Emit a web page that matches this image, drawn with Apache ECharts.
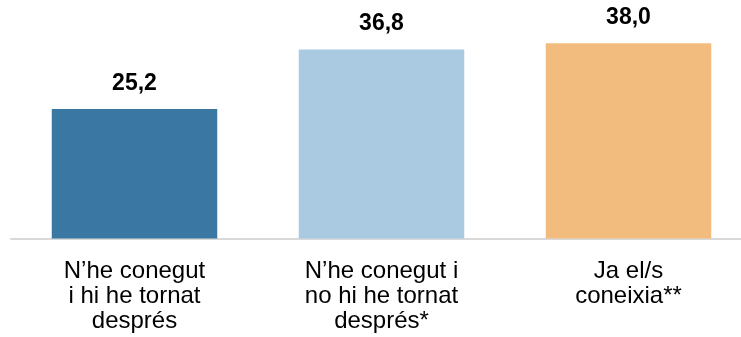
<!DOCTYPE html>
<html>
<head>
<meta charset="utf-8">
<script src="https://cdn.jsdelivr.net/npm/echarts@6/dist/echarts.min.js"></script>
<style>
  html, body { margin: 0; padding: 0; background: #fff; }
  #chart { width: 741px; height: 337px; }
</style>
</head>
<body>
<div id="chart"></div>
<script>
// Categories and values
const categories = [
  "N\u2019he conegut\ni hi he tornat\ndesprés",
  "N\u2019he conegut i\nno hi he tornat\ndesprés*",
  "Ja el/s\nconeixia**"
];
const values = [25.2, 36.8, 38.0];
const barColors = ["#3A77A3", "#A9CAE1", "#F3BC7F"];

const chart = echarts.init(document.getElementById("chart"), null, { renderer: "canvas" });

chart.setOption({
  animation: false,
  textStyle: { fontFamily: "Liberation Sans, Arial, sans-serif" },
  grid: {
    left: 11, width: 741, top: 33, bottom: 98.5,
    containLabel: false,
    outerBoundsMode: "none"
  },
  xAxis: {
    type: "category",
    data: categories,
    axisLine: { show: true, lineStyle: { color: "#D9D9D9", width: 2 } },
    axisTick: { show: false },
    axisLabel: {
      interval: 0,
      color: "#000",
      fontSize: 24,
      lineHeight: 25,
      margin: 20,
      fontFamily: "Liberation Sans, Arial, sans-serif"
    }
  },
  yAxis: {
    type: "value",
    min: 0,
    max: 40,
    show: false,
    splitLine: { show: false }
  },
  series: [{
    type: "bar",
    data: values.map((v, i) => ({ value: v, itemStyle: { color: barColors[i] } })),
    barCategoryGap: "33%",
    label: {
      show: true,
      position: "top",
      distance: 14,
      color: "#000",
      fontSize: 23,
      fontWeight: "bold",
      fontFamily: "Liberation Sans, Arial, sans-serif",
      formatter: p => p.value.toFixed(1).replace(".", ",")
    }
  }]
});
</script>
</body>
</html>
